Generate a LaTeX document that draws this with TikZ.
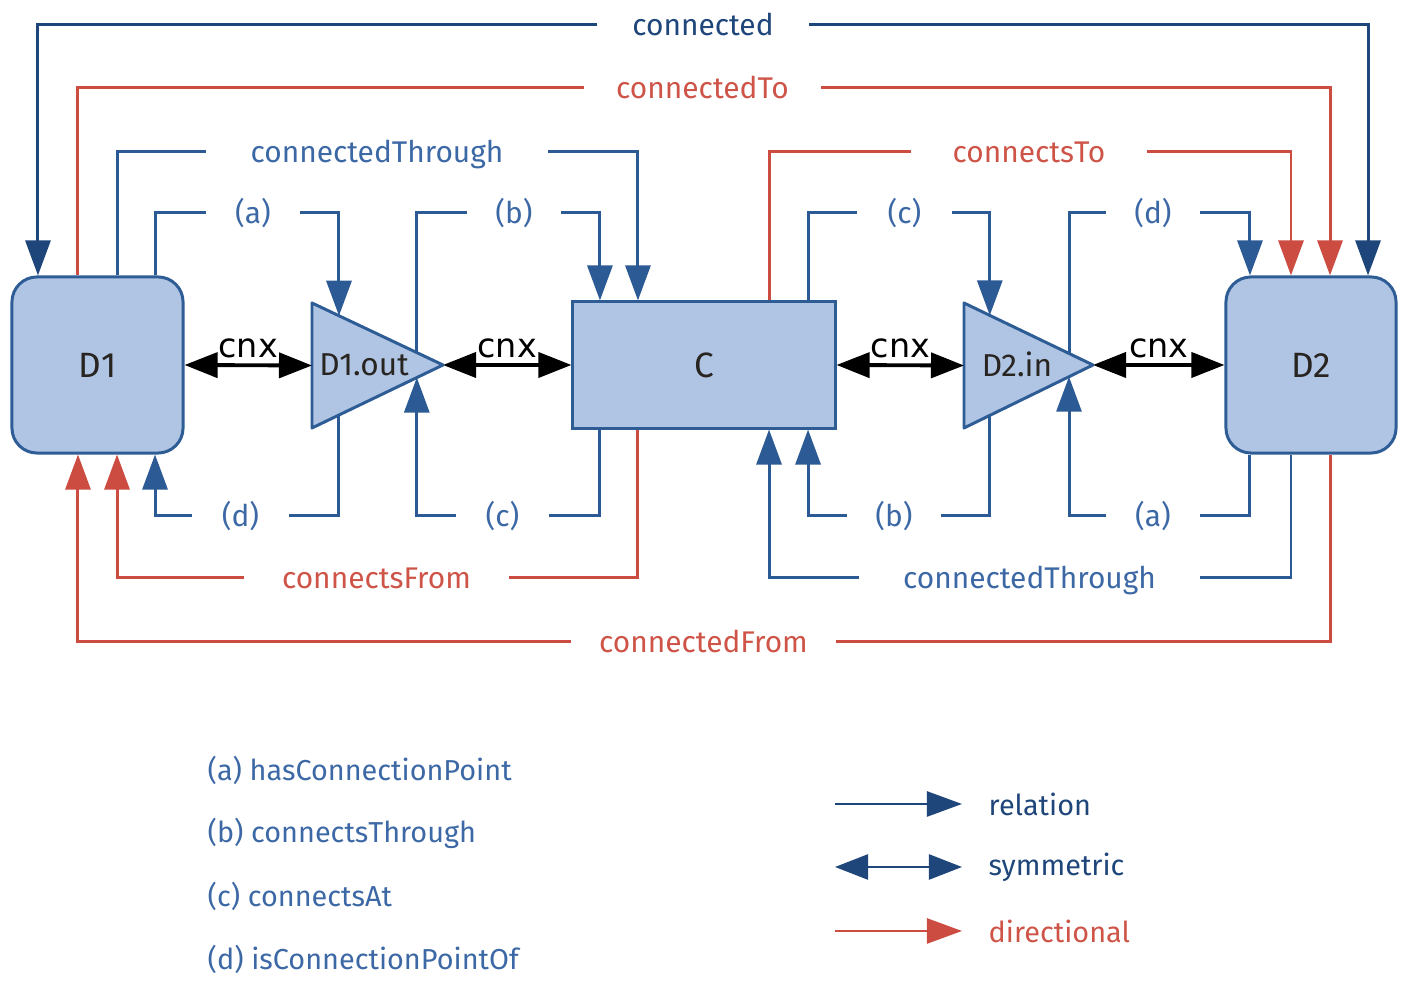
\documentclass[tikz,border=0pt]{standalone}
\usepackage{fontspec}
\setmainfont{Fira Sans}
\newfontfamily\cnxfont{DejaVu Sans}
\usetikzlibrary{arrows.meta,calc}
\definecolor{boxfill}{RGB}{176,196,228}
\definecolor{boxline}{RGB}{46,93,150}
\definecolor{relblue}{RGB}{44,90,148}
\definecolor{relnavy}{RGB}{30,70,122}
\definecolor{reltext}{RGB}{60,104,165}
\definecolor{dirred}{RGB}{204,76,66}
\definecolor{dirtext}{RGB}{206,84,72}
\definecolor{boxtext}{RGB}{40,36,32}
\tikzset{
	relhead/.style={-{Triangle[length=0.35cm,width=0.25cm]}},
	rel/.style={draw=relblue,line width=0.85pt,relhead},
	navyrel/.style={draw=relnavy,line width=0.85pt,relhead},
	dirrel/.style={draw=dirred,line width=0.85pt,relhead},
	sym/.style={<->,>={Triangle[length=0.33cm,width=0.25cm]},line width=1.1pt},
	devbox/.style={draw=boxline,fill=boxfill,line width=0.85pt,text=boxtext,font=\fontsize{10}{12}\selectfont},
	devtext/.style={inner sep=0pt,text=boxtext,font=\fontsize{9}{11}\selectfont},
	lbl/.style={inner sep=0pt,text height=1.55ex,text depth=0.45ex,font=\fontsize{8.5}{10}\selectfont},
	cnxlbl/.style={inner sep=0pt,above=0.05cm,font=\cnxfont\fontsize{9.5}{11}\selectfont},
	legtext/.style={inner sep=0pt,anchor=west,font=\fontsize{8.2}{10}\selectfont}
}
\begin{document}
\begin{tikzpicture}[x=0.01cm,y=-0.01cm]
	\useasboundingbox (0,0) rectangle (1414,998);
	% devices and connection
	\node[devbox,rounded corners=0.25cm,minimum width=1.71cm,minimum height=1.76cm] (D1) at (97.5,365) {D1};
	\node[devbox,rounded corners=0.25cm,minimum width=1.70cm,minimum height=1.76cm] (D2) at (1311,365) {D2};
	\node[devbox,minimum width=2.62cm,minimum height=1.26cm] (C) at (704,365) {C};
	% connection points
	\coordinate (d1o-a) at (312,303);
	\coordinate (d1o-b) at (312,428);
	\coordinate (d1o-t) at (443,365);
	\coordinate (d2i-a) at (964,303);
	\coordinate (d2i-b) at (964,428);
	\coordinate (d2i-t) at (1093,365);
	\filldraw[draw=boxline,fill=boxfill,line width=0.85pt,line join=round] (d1o-a) -- (d1o-t) -- (d1o-b) -- cycle;
	\filldraw[draw=boxline,fill=boxfill,line width=0.85pt,line join=round] (d2i-a) -- (d2i-t) -- (d2i-b) -- cycle;
	\node[devtext] (D1out) at (364,365) {D1.out};
	\node[devtext] (D2in) at (1017,364) {D2.in};
	\coordinate (d1o-w) at ($(d1o-a)!0.5!(d1o-b)$);
	\coordinate (d1o-n1) at ($(d1o-a)!0.206!(d1o-t)$);
	\coordinate (d1o-n2) at ($(d1o-a)!0.8!(d1o-t)$);
	\coordinate (d1o-s1) at ($(d1o-b)!0.206!(d1o-t)$);
	\coordinate (d1o-s2) at ($(d1o-b)!0.8!(d1o-t)$);
	\coordinate (d2i-w) at ($(d2i-a)!0.5!(d2i-b)$);
	\coordinate (d2i-n1) at ($(d2i-a)!0.2!(d2i-t)$);
	\coordinate (d2i-n2) at ($(d2i-a)!0.814!(d2i-t)$);
	\coordinate (d2i-s1) at ($(d2i-b)!0.2!(d2i-t)$);
	\coordinate (d2i-s2) at ($(d2i-b)!0.814!(d2i-t)$);
	% cnx
	\draw[sym] (D1.east) -- node[cnxlbl] (cnx1) {cnx} (d1o-w);
	\draw[sym] (d1o-t) -- node[cnxlbl] (cnx2) {cnx} (C.west);
	\draw[sym] (C.east) -- node[cnxlbl] (cnx3) {cnx} (d2i-w);
	\draw[sym] (d2i-t) -- node[cnxlbl] (cnx4) {cnx} (D2.west);
	% labels above
	\node[lbl,text=relnavy,minimum width=2.1cm] (connected) at (703,25) {connected};
	\node[lbl,text=dirtext,minimum width=2.35cm] (connTo) at (702.5,88) {connectedTo};
	\node[lbl,text=reltext,minimum width=3.4cm] (thrTop) at (377,152) {connectedThrough};
	\node[lbl,text=reltext,minimum width=0.92cm] (aTop) at (253,213) {(a)};
	\node[lbl,text=reltext,minimum width=0.92cm] (bTop) at (514,213) {(b)};
	\node[lbl,text=dirtext,minimum width=2.34cm] (cTo) at (1029,152) {connectsTo};
	\node[lbl,text=reltext,minimum width=0.93cm] (cTop) at (904.5,213) {(c)};
	\node[lbl,text=reltext,minimum width=0.92cm] (dTop) at (1153,213) {(d)};
	% labels below
	\node[lbl,text=reltext,minimum width=0.95cm] (dBot) at (240.5,516) {(d)};
	\node[lbl,text=reltext,minimum width=0.91cm] (cBot) at (502.5,516) {(c)};
	\node[lbl,text=dirtext,minimum width=2.63cm] (cFrom) at (376.5,578) {connectsFrom};
	\node[lbl,text=dirtext,minimum width=2.63cm] (connFrom) at (703.5,642) {connectedFrom};
	\node[lbl,text=reltext,minimum width=0.92cm] (bBot) at (894,516) {(b)};
	\node[lbl,text=reltext,minimum width=3.39cm] (thrBot) at (1029.5,578) {connectedThrough};
	\node[lbl,text=reltext,minimum width=0.92cm] (aBot) at (1153,516) {(a)};
	% relations above
	\draw[navyrel] (connected.west) -| ([xshift=-0.595cm]D1.north);
	\draw[navyrel] (connected.east) -| ([xshift=0.57cm]D2.north);
	\draw[dirrel,-] ([xshift=-0.195cm]D1.north) |- (connTo.west);
	\draw[dirrel] (connTo.east) -| ([xshift=0.19cm]D2.north);
	\draw[rel,-] ([xshift=0.195cm]D1.north) |- (thrTop.west);
	\draw[rel] (thrTop.east) -| ([xshift=-0.66cm]C.north);
	\draw[rel,-] ([xshift=0.575cm]D1.north) |- (aTop.west);
	\draw[rel] (aTop.east) -| (d1o-n1);
	\draw[rel,-] (d1o-n2) |- (bTop.west);
	\draw[rel] (bTop.east) -| ([xshift=-1.04cm]C.north);
	\draw[dirrel,-] ([xshift=0.65cm]C.north) |- (cTo.west);
	\draw[dirrel] (cTo.east) -| ([xshift=-0.2cm]D2.north);
	\draw[rel,-] ([xshift=1.04cm]C.north) |- (cTop.west);
	\draw[rel] (cTop.east) -| (d2i-n1);
	\draw[rel,-] (d2i-n2) |- (dTop.west);
	\draw[rel] (dTop.east) -| ([xshift=-0.61cm]D2.north);
	% relations below
	\draw[rel,-] (d1o-s1) |- (dBot.east);
	\draw[rel] (dBot.west) -| ([xshift=0.575cm]D1.south);
	\draw[rel,-] ([xshift=-1.04cm]C.south) |- (cBot.east);
	\draw[rel] (cBot.west) -| (d1o-s2);
	\draw[dirrel,-] ([xshift=-0.66cm]C.south) |- (cFrom.east);
	\draw[dirrel] (cFrom.west) -| ([xshift=0.195cm]D1.south);
	\draw[dirrel,-] ([xshift=0.19cm]D2.south) |- (connFrom.east);
	\draw[dirrel] (connFrom.west) -| ([xshift=-0.195cm]D1.south);
	\draw[rel,-] (d2i-s1) |- (bBot.east);
	\draw[rel] (bBot.west) -| ([xshift=1.04cm]C.south);
	\draw[rel,-] ([xshift=-0.2cm]D2.south) |- (thrBot.east);
	\draw[rel] (thrBot.west) -| ([xshift=0.65cm]C.south);
	\draw[rel,-] ([xshift=-0.61cm]D2.south) |- (aBot.east);
	\draw[rel] (aBot.west) -| (d2i-s2);
	% legend
	\node[legtext,text=reltext] (legA) at (207,770) {(a) hasConnectionPoint};
	\node[legtext,text=reltext] (legB) at (207,833) {(b) connectsThrough};
	\node[legtext,text=reltext] (legC) at (207,896) {(c) connectsAt};
	\node[legtext,text=reltext] (legD) at (207,959) {(d) isConnectionPointOf};
	\node[legtext,text=relnavy] (legRel) at (988,804) {relation};
	\node[legtext,text=relnavy] (legSym) at (988,867) {symmetric};
	\node[legtext,text=dirtext] (legDir) at (988,931) {directional};
	\coordinate (rel-s) at (835,804);
	\coordinate (rel-e) at (962,804);
	\coordinate (sym-s) at (835,867);
	\coordinate (sym-e) at (962,867);
	\coordinate (dir-s) at (835,931);
	\coordinate (dir-e) at (962,931);
	\draw[navyrel,line width=0.7pt] (rel-s) -- (rel-e);
	\draw[sym,draw=relnavy,line width=0.7pt] (sym-s) -- (sym-e);
	\draw[dirrel,line width=0.7pt] (dir-s) -- (dir-e);
\end{tikzpicture}
\end{document}
